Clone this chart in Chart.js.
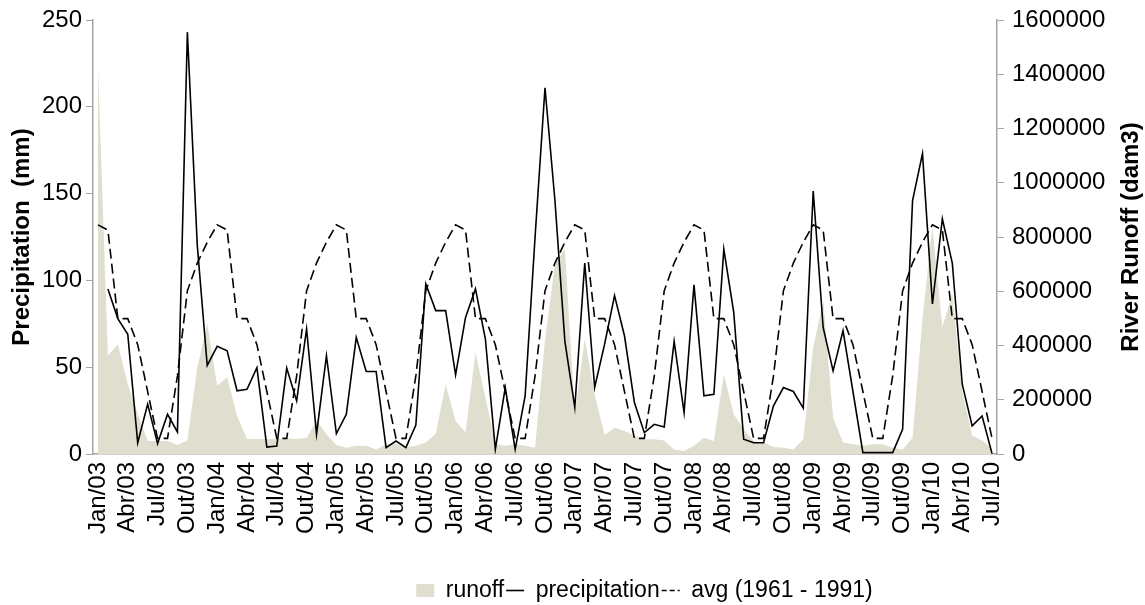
<!DOCTYPE html>
<html>
<head>
<meta charset="utf-8">
<script src="https://cdn.jsdelivr.net/npm/chart.js@4.4.0/dist/chart.umd.min.js"></script>
<style>
  html, body { margin: 0; padding: 0; background: #fff; }
  #wrap { width: 1145px; height: 605px; }
</style>
</head>
<body>
<div id="wrap"><canvas id="myChart" width="1145" height="605"></canvas></div>
<script>
// month names (pt) and years used for the category labels
const monthNames = ['Jan', 'Fev', 'Mar', 'Abr', 'Mai', 'Jun', 'Jul', 'Ago', 'Set', 'Out', 'Nov', 'Dez'];
const years = ['03', '04', '05', '06', '07', '08', '09', '10'];

// runoff (dam3), right axis
const runoff = [
  1430000, 362000, 405000, 258000, 150000, 48000, 48000, 48000, 33000, 50000, 319000, 480000,
  252000, 283000, 140000, 55000, 55000, 55000, 55000, 58000, 55000, 60000, 123000, 73000,
  33000, 23000, 30000, 30000, 17000, 36000, 38000, 25000, 30000, 42000, 75000, 257000,
  122000, 80000, 374000, 208000, 36000, 30000, 36000, 30000, 23000, 420000, 700000, 756000,
  147000, 424000, 220000, 70000, 97000, 85000, 67000, 54000, 54000, 50000, 17000, 11000,
  30000, 60000, 48000, 294000, 147000, 91000, 48000, 42000, 26000, 23000, 17000, 54000,
  393000, 565000, 134000, 42000, 36000, 30000, 36000, 36000, 23000, 17000, 60000, 500000,
  840000, 467000, 590000, 230000, 67000, 50000, 20000
];

// monthly precipitation (mm), left axis
const precipitation = [
  null, 95, 78, 69, 6.5, 28.7, 6, 22.9, 12.7, 243, 120, 51,
  62, 59.5, 36.4, 37.3, 49.8, 4, 4.6, 49.5, 30.6, 72, 11.4, 56.6,
  11.7, 22.9, 67.2, 47.5, 47.5, 3.7, 7.5, 3.7, 16.7, 98, 82.6, 82.6,
  45.6, 78.7, 95.1, 66.2, 2.7, 38.3, 2.7, 33.5, 125, 211, 146, 65,
  26.8, 110, 38.3, 63.3, 91.2, 68.1, 29.6, 12.3, 17.1, 15.6, 64.9, 23.9,
  97.4, 33.5, 34.4, 118, 81.6, 8.5, 6.5, 6.5, 27.7, 38.3, 36, 26.4,
  151.5, 72.9, 47.9, 71, 36, 0.8, 0.8, 0.8, 0.8, 14.2, 146, 173,
  86.4, 135.5, 110, 40.2, 16.2, 21.9, 0.2
];

// average precipitation 1961-1991 (mm), left axis
const avg = [
  132, 129, 78, 78, 63, 36, 9, 9, 45, 94, 110, 122,
  132, 129, 78, 78, 63, 36, 9, 9, 45, 94, 110, 122,
  132, 129, 78, 78, 63, 36, 9, 9, 45, 94, 110, 122,
  132, 129, 78, 78, 63, 36, 9, 9, 45, 94, 110, 122,
  132, 129, 78, 78, 63, 36, 9, 9, 45, 94, 110, 122,
  132, 129, 78, 78, 63, 36, 9, 9, 45, 94, 110, 122,
  132, 129, 78, 78, 63, 36, 9, 9, 45, 94, 110, 122,
  132, 129, 78, 78, 63, 36, 9
];

const leftTicks = [0, 50, 100, 150, 200, 250];
const rightTicks = [0, 200000, 400000, 600000, 800000, 1000000, 1200000, 1400000, 1600000];

let labels = [];
years.forEach(y => monthNames.forEach(m => labels.push(m + '/' + y)));
labels = labels.slice(0, runoff.length);

const axisGray = '#a6a6a6';
const fontFam = "'Liberation Sans', Arial, sans-serif";

// right axis title reads bottom-to-top like the left one
const rightTitle = {
  id: 'rightTitle',
  afterDraw(chart) {
    const c = chart.ctx;
    const area = chart.chartArea;
    c.save();
    c.translate(1131, (area.top + area.bottom) / 2);
    c.rotate(-Math.PI / 2);
    c.font = 'bold 24px ' + fontFam;
    c.fillStyle = '#000';
    c.textAlign = 'center';
    c.textBaseline = 'middle';
    c.fillText('River Runoff (dam3)', 0, 0);
    c.restore();
  }
};

// the legend sits right of the canvas centre and a bit lower in the original
const legendShift = {
  id: 'legendShift',
  afterLayout(chart) {
    chart.legend.left += 72;
    chart.legend.right += 72;
    chart.legend.top += 7;
    chart.legend.bottom += 7;
  }
};

document.addEventListener('DOMContentLoaded', function () {
  const ctx = document.getElementById('myChart').getContext('2d');

  new Chart(ctx, {
    type: 'line',
    data: {
      labels: labels,
      datasets: [
        {
          label: 'runoff',
          data: runoff,
          yAxisID: 'y1',
          fill: 'origin',
          backgroundColor: '#e0decf',
          borderColor: '#e0decf',
          borderWidth: 0,
          pointRadius: 0,
          tension: 0,
          order: 3
        },
        {
          label: 'precipitation',
          data: precipitation,
          yAxisID: 'y',
          fill: false,
          borderColor: '#000',
          backgroundColor: '#000',
          borderWidth: 1.6,
          pointRadius: 0,
          tension: 0,
          order: 2
        },
        {
          label: 'avg (1961 - 1991)',
          data: avg,
          yAxisID: 'y',
          fill: false,
          borderColor: '#000',
          backgroundColor: '#000',
          borderWidth: 1.6,
          borderDash: [10, 5],
          pointRadius: 0,
          tension: 0,
          order: 1
        }
      ]
    },
    plugins: [rightTitle, legendShift],
    options: {
      responsive: false,
      animation: false,
      layout: { padding: { top: 20, left: 0, right: 0, bottom: 0 } },
      plugins: {
        tooltip: { enabled: false },
        legend: {
          position: 'bottom',
          labels: {
            usePointStyle: true,
            boxHeight: 13,
            pointStyleWidth: 18,
            padding: 2,
            color: '#000',
            font: { family: fontFam, size: 23 },
            generateLabels: function (chart) {
              return chart.data.datasets.map((ds, i) => ({
                text: ds.label,
                fillStyle: ds.backgroundColor,
                strokeStyle: ds.borderColor,
                lineWidth: i === 0 ? 0 : 1.6,
                lineDash: i === 2 ? [5, 3] : [],
                pointStyle: i === 0 ? 'rect' : 'line',
                datasetIndex: i,
                hidden: false
              }));
            }
          }
        }
      },
      scales: {
        x: {
          type: 'category',
          offset: true,
          grid: { display: false, drawTicks: false },
          border: { display: true, color: axisGray, width: 1.5 },
          ticks: {
            autoSkip: false,
            maxRotation: 90,
            minRotation: 90,
            padding: 8,
            color: '#000',
            font: { family: fontFam, size: 24, lineHeight: 1 },
            callback: function (val, idx) { return idx % 3 === 0 ? labels[idx] : ''; }
          },
          afterFit: function (scale) { scale.height = 116; }
        },
        y: {
          position: 'left',
          min: 0,
          max: 250,
          grid: { drawOnChartArea: false, drawTicks: true, tickLength: 7, color: axisGray },
          border: { display: true, color: axisGray, width: 1.5 },
          afterBuildTicks: function (scale) { scale.ticks = leftTicks.map(v => ({ value: v })); },
          ticks: { padding: 4, color: '#000', font: { family: fontFam, size: 24, lineHeight: 1 } },
          title: {
            display: true,
            text: 'Precipitation  (mm)',
            color: '#000',
            font: { family: fontFam, size: 24, weight: 'bold' },
            padding: { top: 8, bottom: 0 }
          },
          afterFit: function (scale) { scale.width = 93; }
        },
        y1: {
          position: 'right',
          min: 0,
          max: 1600000,
          grid: { drawOnChartArea: false, drawTicks: true, tickLength: 7, color: axisGray },
          border: { display: true, color: axisGray, width: 1.5 },
          afterBuildTicks: function (scale) { scale.ticks = rightTicks.map(v => ({ value: v })); },
          ticks: { padding: 8, color: '#000', font: { family: fontFam, size: 24, lineHeight: 1 }, callback: v => String(v) },
          afterFit: function (scale) { scale.width = 148; }
        }
      }
    }
  });
}, false);
</script>
</body>
</html>
